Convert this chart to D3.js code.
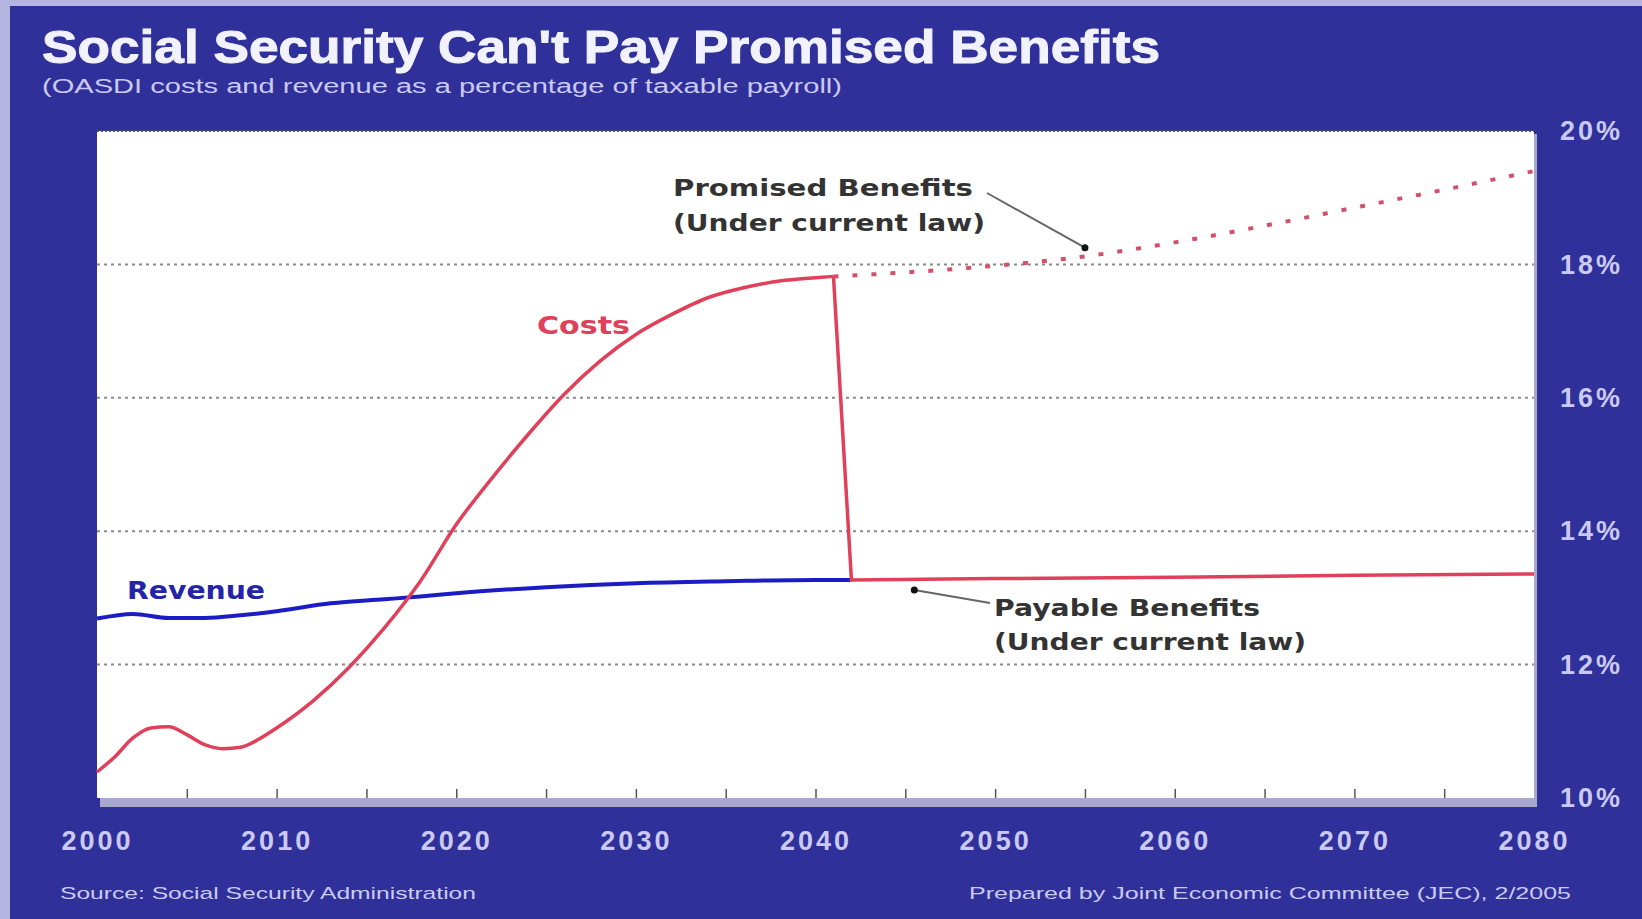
<!DOCTYPE html>
<html>
<head>
<meta charset="utf-8">
<script src="https://cdn.jsdelivr.net/npm/d3@7"></script>
<style>
  body { margin: 0; background: #b4b4de; }
  svg { display: block; }
</style>
</head>
<body>
<svg width="1642" height="919"></svg>
<script>
// data (% of taxable payroll)
const costYears = [2000, 2001, 2002, 2003, 2004, 2005, 2006, 2007, 2008, 2009, 2010, 2012, 2014, 2016, 2018, 2020, 2022, 2024, 2026, 2028, 2030, 2032, 2034, 2036, 2038, 2040, 2041];
const costValues = [10.39, 10.62, 10.9, 11.05, 11.07, 10.95, 10.8, 10.74, 10.76, 10.88, 11.05, 11.45, 11.95, 12.55, 13.25, 14.1, 14.8, 15.45, 16.05, 16.55, 16.95, 17.25, 17.5, 17.65, 17.75, 17.8, 17.82];

const payableYears = [2041, 2042, 2050, 2060, 2070, 2080];
const payableValues = [17.82, 13.27, 13.29, 13.31, 13.34, 13.36];

const promisedYears = [2041, 2045, 2050, 2055, 2060, 2065, 2070, 2075, 2080];
const promisedValues = [17.82, 17.88, 17.98, 18.12, 18.33, 18.58, 18.85, 19.12, 19.4];

const revenueYears = [2000, 2002, 2004, 2006, 2008, 2010, 2013, 2016, 2018, 2020, 2025, 2030, 2035, 2040, 2042];
const revenueValues = [12.69, 12.76, 12.7, 12.7, 12.74, 12.8, 12.92, 12.98, 13.02, 13.07, 13.16, 13.22, 13.25, 13.27, 13.27];

const yearLabels = [2000, 2010, 2020, 2030, 2040, 2050, 2060, 2070, 2080];
const minorTicks = d3.range(2005, 2080, 5);
const pctTicks = [10, 12, 14, 16, 18, 20];
const gridPcts = [12, 14, 16, 18];

const svg = d3.select('svg');

const plotL = 97, plotR = 1534, plotT = 131, plotB = 798;
const x = d3.scaleLinear().domain([2000, 2080]).range([plotL, plotR]);
const y = d3.scaleLinear().domain([10, 20]).range([plotB, plotT]);

const blue = '#30309a';
const lav = '#cacaf4';

// frame
svg.append('rect').attr('width', 1642).attr('height', 919).attr('fill', '#b4b4de');
svg.append('rect').attr('x', 10).attr('y', 6).attr('width', 1632).attr('height', 913).attr('fill', blue);

// title
svg.append('text')
    .attr('x', 42).attr('y', 63)
    .attr('textLength', 1118).attr('lengthAdjust', 'spacingAndGlyphs')
    .attr('font-family', 'Liberation Sans, Arial, sans-serif')
    .attr('font-weight', 'bold').attr('font-size', 46)
    .attr('fill', '#f2f2ff').attr('stroke', '#f2f2ff').attr('stroke-width', 1)
    .text("Social Security Can't Pay Promised Benefits");

svg.append('text')
    .attr('x', 42).attr('y', 93)
    .attr('textLength', 800).attr('lengthAdjust', 'spacingAndGlyphs')
    .attr('font-family', 'Liberation Sans, Arial, sans-serif')
    .attr('font-size', 20).attr('fill', lav)
    .text('(OASDI costs and revenue as a percentage of taxable payroll)');

// plot panel with a soft shadow
svg.append('rect')
    .attr('x', plotL + 3).attr('y', plotT + 3)
    .attr('width', plotR - plotL).attr('height', plotB - plotT + 6)
    .attr('fill', '#a8a8cc');
svg.append('rect')
    .attr('x', plotL).attr('y', plotT)
    .attr('width', plotR - plotL).attr('height', plotB - plotT)
    .attr('fill', '#fff');

const chart = svg.append('g');

chart.selectAll('.grid')
  .data(gridPcts)
  .enter()
  .append('line')
    .attr('x1', plotL).attr('x2', plotR)
    .attr('y1', d => y(d)).attr('y2', d => y(d))
    .attr('stroke', '#8a8a8a').attr('stroke-width', 2)
    .attr('stroke-dasharray', '3 4');

chart.append('line')
    .attr('x1', plotL).attr('x2', plotR)
    .attr('y1', y(20)).attr('y2', y(20))
    .attr('stroke', '#555').attr('stroke-width', 2)
    .attr('stroke-dasharray', '2 2');

// minor ticks inside along the bottom
chart.append('g')
    .attr('transform', `translate(0, ${plotB})`)
    .call(d3.axisTop(x).tickValues(minorTicks).tickSize(9).tickFormat(''))
    .call(g => g.select('.domain').remove())
    .call(g => g.selectAll('line').attr('stroke', '#555').attr('stroke-width', 1.5));

// year labels
chart.append('g')
    .attr('transform', `translate(0, ${plotB})`)
    .call(d3.axisBottom(x).tickValues(yearLabels).tickSize(0).tickPadding(33).tickFormat(d3.format('d')))
    .call(g => g.select('.domain').remove())
    .call(g => g.selectAll('text')
        .attr('font-family', 'Liberation Sans, Arial, sans-serif')
        .attr('font-weight', 'bold').attr('font-size', 27)
        .attr('letter-spacing', 3)
        .attr('fill', lav));

// percent labels on the right
chart.append('g')
    .attr('transform', `translate(${plotR + 26}, 0)`)
    .call(d3.axisRight(y).tickValues(pctTicks).tickSize(0).tickPadding(0).tickFormat(d => d + '%'))
    .call(g => g.select('.domain').remove())
    .call(g => g.selectAll('text')
        .attr('font-family', 'Liberation Sans, Arial, sans-serif')
        .attr('font-weight', 'bold').attr('font-size', 27)
        .attr('letter-spacing', 3)
        .attr('fill', lav));

const line = d3.line().x(d => x(d[0])).y(d => y(d[1]));
const smooth = d3.line().x(d => x(d[0])).y(d => y(d[1])).curve(d3.curveMonotoneX);

const zip = (a, b) => a.map((v, i) => [v, b[i]]);

chart.append('path')
    .datum(zip(promisedYears, promisedValues))
    .attr('d', smooth)
    .attr('fill', 'none').attr('stroke', '#d4506a').attr('stroke-width', 4)
    .attr('stroke-dasharray', '5 14');

chart.append('path')
    .datum(zip(revenueYears, revenueValues))
    .attr('d', smooth)
    .attr('fill', 'none').attr('stroke', '#1c1cc4').attr('stroke-width', 4);

chart.append('path')
    .datum(zip(costYears, costValues))
    .attr('d', smooth)
    .attr('fill', 'none').attr('stroke', '#e0405a').attr('stroke-width', 3.5);

chart.append('path')
    .datum(zip(payableYears, payableValues))
    .attr('d', line)
    .attr('fill', 'none').attr('stroke', '#e0405a').attr('stroke-width', 3.5);

// labels inside plot
const label = (tx, ty, str, color, len, size) => chart.append('text')
    .attr('x', tx).attr('y', ty)
    .attr('textLength', len).attr('lengthAdjust', 'spacingAndGlyphs')
    .attr('font-family', 'DejaVu Sans, Verdana, sans-serif')
    .attr('font-weight', 'bold').attr('font-size', size)
    .attr('fill', color)
    .text(str);

label(537, 334, 'Costs', '#e0405a', 93, 24);
label(127, 599, 'Revenue', '#2424a8', 138, 24);
label(673, 196, 'Promised Benefits', '#333', 300, 23);
label(673, 231, '(Under current law)', '#333', 312, 23);
label(994, 616, 'Payable Benefits', '#333', 266, 23);
label(994, 650, '(Under current law)', '#333', 312, 23);

// annotation arrows
const arrows = [
  {from: [987, 193], to: [2055, 18.25]},
  {from: [990, 603], to: [2045.5, 13.12]}
];
arrows.forEach(a => {
  const tx = x(a.to[0]), ty = y(a.to[1]);
  chart.append('line')
      .attr('x1', a.from[0]).attr('y1', a.from[1])
      .attr('x2', tx).attr('y2', ty)
      .attr('stroke', '#666').attr('stroke-width', 2);
  chart.append('circle')
      .attr('cx', tx).attr('cy', ty).attr('r', 3.5)
      .attr('fill', '#111');
});

// footer
svg.append('text')
    .attr('x', 60).attr('y', 899)
    .attr('textLength', 416).attr('lengthAdjust', 'spacingAndGlyphs')
    .attr('font-family', 'Liberation Sans, Arial, sans-serif')
    .attr('font-size', 17).attr('fill', lav)
    .text('Source:  Social Security Administration');

svg.append('text')
    .attr('x', 969).attr('y', 899)
    .attr('textLength', 602).attr('lengthAdjust', 'spacingAndGlyphs')
    .attr('font-family', 'Liberation Sans, Arial, sans-serif')
    .attr('font-size', 17).attr('fill', lav)
    .text('Prepared by Joint Economic Committee (JEC), 2/2005');
</script>
</body>
</html>
